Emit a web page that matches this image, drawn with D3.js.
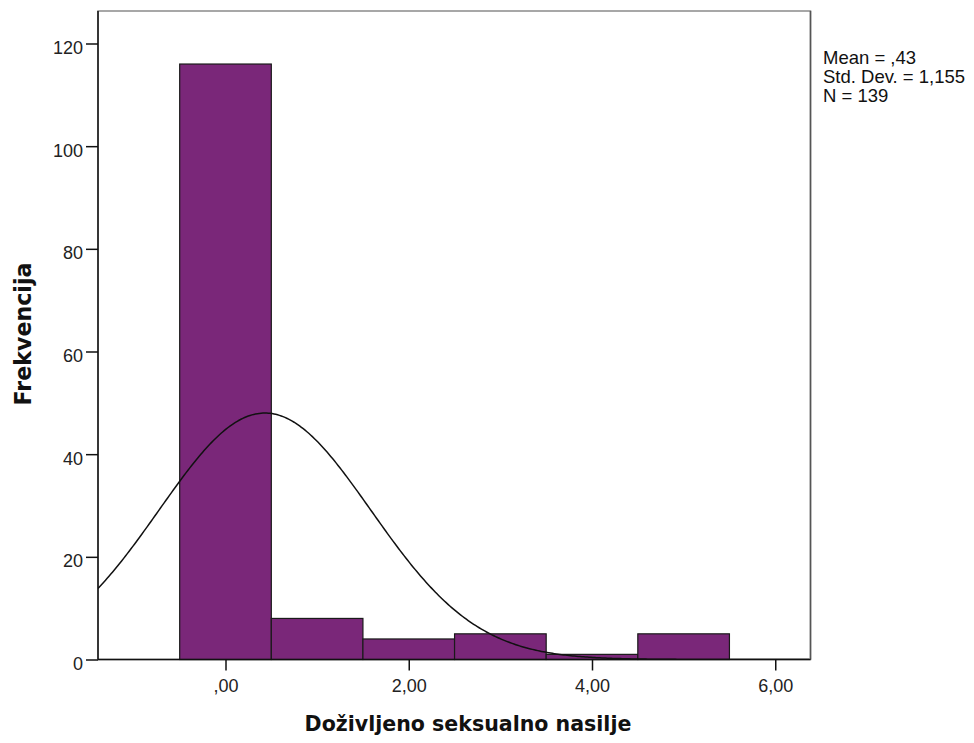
<!DOCTYPE html>
<html><head><meta charset="utf-8">
<script src="https://cdn.jsdelivr.net/npm/d3@7"></script>
<style>body{margin:0;background:#fff;} svg{display:block;}</style>
</head><body>
<svg id="c" width="974" height="743"></svg>
<script>
const binStarts = [-0.5, 0.5, 1.5, 2.5, 3.5, 4.5];
const binWidth = 1;
const counts = [116, 8, 4, 5, 1, 5];
const xTicks = [0, 2, 4, 6];
const xTickLabels = [",00", "2,00", "4,00", "6,00"];
const yTicks = [0, 20, 40, 60, 80, 100, 120];
const stats = ["Mean = ,43", "Std. Dev. = 1,155", "N = 139"];
const xTitle = "Doživljeno seksualno nasilje";
const yTitle = "Frekvencija";
const mean = 0.43, sd = 1.155, N = 139;

const svg = d3.select("#c");
const L = 98, R = 810.5, T = 11, B = 659.5;
const x = d3.scaleLinear().domain([0, 4]).range([225.5, 592]);
x.domain([x.invert(L), x.invert(R)]).range([L, R]);
const y = d3.scaleLinear().domain([0, 120]).range([B, 43.5]);
y.domain([0, y.invert(T)]).range([B, T]);

const font = "'Liberation Sans', Arial, sans-serif";
const titleFont = "'DejaVu Sans', Verdana, sans-serif";

svg.append("rect").attr("x", L).attr("y", T).attr("width", R - L).attr("height", B - T)
  .attr("fill", "#fff").attr("stroke", "#8a8a8a").attr("stroke-width", 1.5);

svg.append("defs").append("clipPath").attr("id", "clip")
  .append("rect").attr("x", L).attr("y", T).attr("width", R - L).attr("height", B - T);

svg.append("g").selectAll("rect").data(binStarts).join("rect")
  .attr("x", d => x(d)).attr("width", d => x(d + binWidth) - x(d))
  .attr("y", (d, i) => y(counts[i])).attr("height", (d, i) => y(0) - y(counts[i]))
  .attr("fill", "#7a2779").attr("stroke", "#1a1a1a").attr("stroke-width", 1.2);

const curveX = d3.range(x.domain()[0], x.domain()[1] + 0.001, 0.02);
const dens = v => N * binWidth / (sd * Math.sqrt(2 * Math.PI)) * Math.exp(-0.5 * ((v - mean) / sd) ** 2);
svg.append("path").datum(curveX).attr("clip-path", "url(#clip)")
  .attr("d", d3.line().x(d => x(d)).y(d => y(dens(d))))
  .attr("fill", "none").attr("stroke", "#111").attr("stroke-width", 1.5);

svg.append("line").attr("x1", R).attr("x2", R).attr("y1", T).attr("y2", B).attr("stroke", "#555").attr("stroke-width", 1.5);

const yAxis = svg.append("g").attr("transform", `translate(${L},0)`)
  .call(d3.axisLeft(y).tickValues(yTicks).tickSize(12).tickPadding(3).tickFormat(d3.format("d")));
yAxis.select(".domain").attr("stroke", "#111").attr("stroke-width", 1.5).attr("d", `M0,${T}V${B}`);
yAxis.selectAll(".tick line").attr("stroke", "#111").attr("stroke-width", 1.5);
yAxis.selectAll(".tick text").attr("font-family", font).attr("font-size", 18).attr("dy", "0.56em").attr("fill", "#222");

const xAxis = svg.append("g").attr("transform", `translate(0,${B})`)
  .call(d3.axisBottom(x).tickValues(xTicks).tickSize(11).tickPadding(9).tickFormat((d, i) => xTickLabels[i]));
xAxis.select(".domain").attr("stroke", "#111").attr("stroke-width", 1.5).attr("d", `M${L},0H${R}`);
xAxis.selectAll(".tick line").attr("stroke", "#111").attr("stroke-width", 1.5);
xAxis.selectAll(".tick text").attr("font-family", font).attr("font-size", 18).attr("fill", "#222");

function fitText(sel, target) {
  const w = sel.node().getComputedTextLength();
  const fs = parseFloat(sel.attr("font-size"));
  if (w > 0) sel.attr("font-size", (fs * target / w).toFixed(2));
}
const xt = svg.append("text").attr("x", 468).attr("y", 731).attr("text-anchor", "middle")
  .attr("font-family", titleFont).attr("font-weight", "bold").attr("font-size", 20).attr("fill", "#111")
  .text(xTitle);
fitText(xt, 327);
const yt = svg.append("text").attr("transform", "translate(31,334) rotate(-90)").attr("text-anchor", "middle")
  .attr("font-family", titleFont).attr("font-weight", "bold").attr("font-size", 20).attr("fill", "#111")
  .text(yTitle);
fitText(yt, 143);

svg.append("g").selectAll("text").data(stats).join("text")
  .attr("x", 823).attr("y", (d, i) => 63.5 + i * 19)
  .attr("font-family", font).attr("font-size", 18.5).attr("fill", "#111").text(d => d);
</script>
</body></html>
